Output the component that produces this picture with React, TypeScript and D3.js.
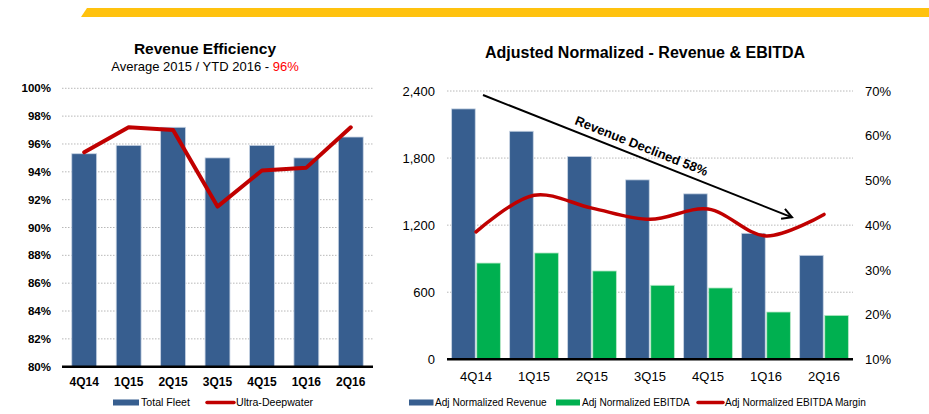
import * as d3 from "d3";

// quarters shared by both panels
const quarters = ["4Q14", "1Q15", "2Q15", "3Q15", "4Q15", "1Q16", "2Q16"];

// left panel: revenue efficiency (%)
const totalFleet = [95.3, 95.9, 97.2, 95.0, 95.9, 95.0, 96.5];
const ultraDeepwater = [95.4, 97.2, 97.0, 91.5, 94.1, 94.3, 97.2];
const effTicks = [80, 82, 84, 86, 88, 90, 92, 94, 96, 98, 100];

// right panel: adjusted normalized revenue / EBITDA ($M) and margin (%)
const adjRevenue = [2240, 2040, 1815, 1605, 1480, 1127, 930];
const adjEbitda = [861, 951, 790, 662, 638, 423, 393];
const ebitdaMargin = [38.5, 46.7, 43.8, 41.3, 43.6, 37.6, 42.4];
const revTicks = [0, 600, 1200, 1800, 2400];
const marginTicks = [10, 20, 30, 40, 50, 60, 70];

const FONT = "'Liberation Sans', Arial, Helvetica, sans-serif";
const BLUE = "#375E8F";
const GREEN = "#00B050";
const RED = "#C00000";
const GRID = "#a6a6a6";

function LeftChart() {
  const x = d3.scaleBand<string>().domain(quarters).range([62, 373]).paddingInner(0.44).paddingOuter(0.22);
  const y = d3.scaleLinear().domain([80, 100]).range([366.7, 88.3]);
  const line = d3
    .line<number>()
    .x((_, i) => x(quarters[i])! + x.bandwidth() / 2)
    .y((d) => y(d));

  return (
    <g>
      <text x={205} y={54} textAnchor="middle" fontWeight="bold" fontSize={15.5}>
        Revenue Efficiency
      </text>
      <text x={205} y={71} textAnchor="middle" fontSize={13}>
        Average 2015 / YTD 2016 - <tspan fill="#FF0000">96%</tspan>
      </text>
      {effTicks.map((t) => (
        <g key={t}>
          {t > 80 && (
            <line x1={62} x2={373} y1={y(t)} y2={y(t)} stroke={GRID} strokeWidth={0.8} strokeDasharray="1.5,1.5" />
          )}
          <text x={51} y={y(t)} dy="0.35em" textAnchor="end" fontWeight="bold" fontSize={11.5}>
            {t}%
          </text>
        </g>
      ))}
      {totalFleet.map((v, i) => (
        <rect
          key={quarters[i]}
          x={x(quarters[i])}
          y={y(v)}
          width={x.bandwidth()}
          height={y(80) - y(v)}
          fill={BLUE}
          stroke="#c8d4e4"
          strokeWidth={0.8}
        />
      ))}
      <line x1={62} x2={373} y1={y(80)} y2={y(80)} stroke="#000" strokeWidth={2.5} />
      <path d={line(ultraDeepwater)!} fill="none" stroke={RED} strokeWidth={4} strokeLinejoin="round" strokeLinecap="round" />
      {quarters.map((q) => (
        <text key={q} x={x(q)! + x.bandwidth() / 2} y={386} textAnchor="middle" fontWeight="bold" fontSize={12}>
          {q}
        </text>
      ))}
      <rect x={113} y={399.5} width={26} height={6} fill={BLUE} />
      <text x={141} y={406} fontSize={10.6}>Total Fleet</text>
      <line x1={207} x2={234} y1={402.5} y2={402.5} stroke={RED} strokeWidth={3.5} strokeLinecap="round" />
      <text x={236} y={406} fontSize={10.6}>Ultra-Deepwater</text>
    </g>
  );
}

function RightChart() {
  const x0 = d3.scaleBand<string>().domain(quarters).range([447, 853]).paddingInner(0.16).paddingOuter(0.08);
  const x1 = d3.scaleBand<string>().domain(["rev", "ebitda"]).range([0, x0.bandwidth()]).paddingInner(0.06);
  const yL = d3.scaleLinear().domain([0, 2400]).range([359.3, 91]);
  const yR = d3.scaleLinear().domain([10, 70]).range([359.3, 91]);
  const cx = (i: number) => x0(quarters[i])! + x0.bandwidth() / 2;
  const marginLine = d3
    .line<number>()
    .x((_, i) => cx(i))
    .y((d) => yR(d))
    .curve(d3.curveCatmullRom.alpha(0.5));

  // annotation arrow
  const ax1 = cx(0) + 7;
  const ay1 = yL(2364);
  const ax2 = cx(5) + 26;
  const ay2 = yL(1270);
  const ang = Math.atan2(ay2 - ay1, ax2 - ax1);
  const head = 11;
  const hx1 = ax2 - head * Math.cos(ang - 0.5);
  const hy1 = ay2 - head * Math.sin(ang - 0.5);
  const hx2 = ax2 - head * Math.cos(ang + 0.5);
  const hy2 = ay2 - head * Math.sin(ang + 0.5);
  const t = 0.5;
  const tx = ax1 + (ax2 - ax1) * t + 11 * Math.sin(ang);
  const ty = ay1 + (ay2 - ay1) * t - 11 * Math.cos(ang);

  return (
    <g>
      <text x={645} y={58} textAnchor="middle" fontWeight="bold" fontSize={16}>
        Adjusted Normalized - Revenue &amp; EBITDA
      </text>
      {revTicks.map((v) => (
        <g key={v}>
          {v > 0 && (
            <line x1={447} x2={853} y1={yL(v)} y2={yL(v)} stroke={GRID} strokeWidth={0.8} strokeDasharray="1.5,1.5" />
          )}
          <text x={435} y={yL(v)} dy="0.36em" textAnchor="end" fontSize={13}>
            {d3.format(",")(v)}
          </text>
        </g>
      ))}
      {marginTicks.map((v) => (
        <text key={v} x={865} y={yR(v)} dy="0.36em" fontSize={13}>
          {v}%
        </text>
      ))}
      {quarters.map((q, i) => (
        <g key={q} transform={`translate(${x0(q)},0)`}>
          <rect
            x={x1("rev")}
            y={yL(adjRevenue[i])}
            width={x1.bandwidth()}
            height={yL(0) - yL(adjRevenue[i])}
            fill={BLUE}
            stroke="#c8d4e4"
            strokeWidth={0.8}
          />
          <rect
            x={x1("ebitda")}
            y={yL(adjEbitda[i])}
            width={x1.bandwidth()}
            height={yL(0) - yL(adjEbitda[i])}
            fill={GREEN}
            stroke="#b8e8c8"
            strokeWidth={0.8}
          />
        </g>
      ))}
      <line x1={447} x2={853} y1={yL(0)} y2={yL(0)} stroke="#000" strokeWidth={2.5} />
      <path d={marginLine(ebitdaMargin)!} fill="none" stroke={RED} strokeWidth={3.5} strokeLinecap="round" />
      <line x1={ax1} y1={ay1} x2={ax2} y2={ay2} stroke="#000" strokeWidth={2} />
      <polyline points={`${hx1},${hy1} ${ax2},${ay2} ${hx2},${hy2}`} fill="none" stroke="#000" strokeWidth={2} />
      <text
        x={tx}
        y={ty}
        dy="0.35em"
        textAnchor="middle"
        fontWeight="bold"
        fontSize={13}
        transform={`rotate(${(ang * 180) / Math.PI},${tx},${ty})`}
      >
        Revenue Declined 58%
      </text>
      {quarters.map((q) => (
        <text key={q} x={x0(q)! + x0.bandwidth() / 2} y={380.5} textAnchor="middle" fontSize={13}>
          {q}
        </text>
      ))}
      <rect x={409} y={399.5} width={24.5} height={6} fill={BLUE} />
      <text x={435} y={406} fontSize={10.1}>Adj Normalized Revenue</text>
      <rect x={556} y={399.5} width={24} height={6} fill={GREEN} />
      <text x={582} y={406} fontSize={10.1}>Adj Normalized EBITDA</text>
      <line x1={698} x2={723} y1={402.5} y2={402.5} stroke={RED} strokeWidth={3.5} strokeLinecap="round" />
      <text x={725} y={406} fontSize={10.1}>Adj Normalized EBITDA Margin</text>
    </g>
  );
}

export default function App() {
  return (
    <svg
      width={929}
      height={414}
      style={{ position: "absolute", left: 0, top: 0, background: "#fff" }}
      fontFamily={FONT}
    >
      <polygon points="87,8 929,8 929,17 81,17" fill="#FFC20E" />
      <LeftChart />
      <RightChart />
    </svg>
  );
}
